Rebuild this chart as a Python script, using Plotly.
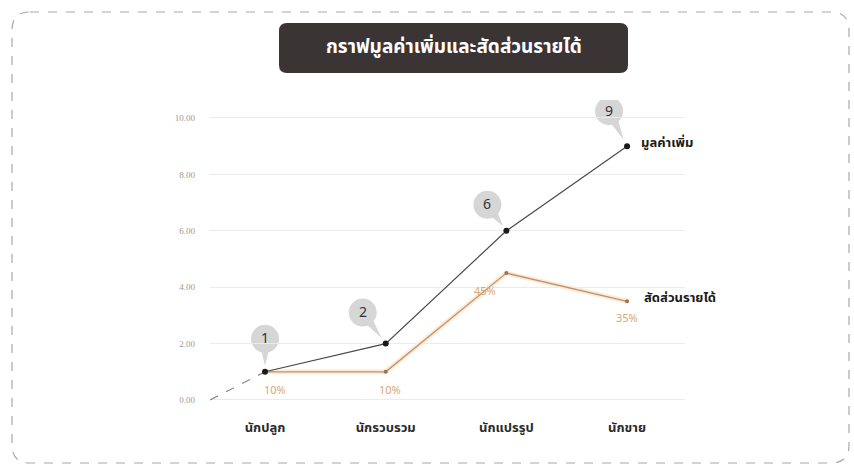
import math
import plotly.graph_objects as go

# ---- data ----
categories = ["นักปลูก", "นักรวบรวม", "นักแปรรูป", "นักขาย"]
value_added = [1, 2, 6, 9]            # มูลค่าเพิ่ม
income_share_pct = [10, 10, 45, 35]   # สัดส่วนรายได้ (%)
y_ticks = [0, 2, 4, 6, 8, 10]
title_text = "กราฟมูลค่าเพิ่มและสัดส่วนรายได้"
value_name = "มูลค่าเพิ่ม"
share_name = "สัดส่วนรายได้"

W, H = 854, 466
THAI = "Noto Sans Thai, Noto Sans, Tahoma, sans-serif"

# plot area in pixels
PX0, PX1, PY0, PY1 = 210, 685, 100, 410
x_range = [0.544, 4.48]
y_range = [-0.355, 10.638]

xs = list(range(1, len(categories) + 1))
share_scaled = [p / 10 for p in income_share_pct]


def fx(px):
    return px / W


def fy(py):
    return 1 - py / H


def rounded_rect(x0, y0, x1, y1, r):
    """SVG path of a rounded rectangle in paper units, from pixel corners."""
    pts = [
        f"M {fx(x0 + r)},{fy(y0)}",
        f"L {fx(x1 - r)},{fy(y0)}",
        f"Q {fx(x1)},{fy(y0)} {fx(x1)},{fy(y0 + r)}",
        f"L {fx(x1)},{fy(y1 - r)}",
        f"Q {fx(x1)},{fy(y1)} {fx(x1 - r)},{fy(y1)}",
        f"L {fx(x0 + r)},{fy(y1)}",
        f"Q {fx(x0)},{fy(y1)} {fx(x0)},{fy(y1 - r)}",
        f"L {fx(x0)},{fy(y0 + r)}",
        f"Q {fx(x0)},{fy(y0)} {fx(x0 + r)},{fy(y0)}",
        "Z",
    ]
    return " ".join(pts)


fig = go.Figure()

# dashed lead-in from the origin to the first point
fig.add_trace(go.Scatter(
    x=[x_range[0], xs[0]], y=[0, value_added[0]], mode="lines",
    line=dict(color="#8a8a8a", width=1.2, dash="dash"),
    hoverinfo="skip", showlegend=False))

# income-share line: soft halo + core
fig.add_trace(go.Scatter(
    x=xs, y=share_scaled, mode="lines",
    line=dict(color="#fcebd8", width=5),
    hoverinfo="skip", showlegend=False))
fig.add_trace(go.Scatter(
    x=xs, y=share_scaled, mode="lines+markers",
    line=dict(color="#c0906a", width=1.3),
    marker=dict(color="#9a7352", size=4),
    name=share_name, showlegend=False))

# value-added line
fig.add_trace(go.Scatter(
    x=xs, y=value_added, mode="lines+markers",
    line=dict(color="#4a4a4a", width=1.2),
    marker=dict(color="#1a1a1a", size=6),
    name=value_name, showlegend=False))

shapes = []
annotations = []

# outer dashed frame
shapes.append(dict(type="path", xref="paper", yref="paper",
                   path=rounded_rect(12, 12, 849, 463, 18),
                   line=dict(color="#a8a8a8", width=1.2, dash="dash"),
                   fillcolor="rgba(0,0,0,0)", layer="below"))
# title banner
shapes.append(dict(type="path", xref="paper", yref="paper",
                   path=rounded_rect(279, 23, 628, 73, 8),
                   line=dict(width=0), fillcolor="#3a3435"))
annotations.append(dict(xref="paper", yref="paper", x=fx(453.5), y=fy(48),
                        yanchor="middle",
                        text=f"<b>{title_text}</b>", showarrow=False,
                        font=dict(family=THAI, size=19, color="white")))

# callout bubbles above the value-added points (pixel offsets from each point)
bubble_offsets = [(0, 33), (-23, 31), (-19, 26), (-18, 35)]
R = 14
for x, v, (dx, dy) in zip(xs, value_added, bubble_offsets):
    # tail from bubble towards the point
    ang = math.atan2(-dy, -dx)
    bx, by = dx + R * 0.8 * math.cos(ang), dy + R * 0.8 * math.sin(ang)
    nx, ny = -math.sin(ang), math.cos(ang)
    tip = (dx * 0.18, dy * 0.18)
    path = (f"M {bx + nx * 4},{by + ny * 4} L {tip[0]},{tip[1]} "
            f"L {bx - nx * 4},{by - ny * 4} Z")
    shapes.append(dict(type="path", xref="x", yref="y",
                       xsizemode="pixel", ysizemode="pixel",
                       xanchor=x, yanchor=v, path=path,
                       fillcolor="#d6d6d6", line=dict(width=0), layer="below"))
    shapes.append(dict(type="circle", xref="x", yref="y",
                       xsizemode="pixel", ysizemode="pixel",
                       xanchor=x, yanchor=v,
                       x0=dx - R, x1=dx + R, y0=dy - R, y1=dy + R,
                       fillcolor="#d6d6d6", line=dict(width=0), layer="below"))
    annotations.append(dict(x=x, y=v, xref="x", yref="y", text=str(v),
                            showarrow=False, xshift=dx, yshift=dy + 1,
                            font=dict(family="Noto Sans, sans-serif", size=14,
                                      color="#333333")))

# percentage labels on the income-share line
pct_shifts = [(10, -19), (4, -19), (-21, -18), (0, -17)]
for x, s, p, (dx, dy) in zip(xs, share_scaled, income_share_pct, pct_shifts):
    annotations.append(dict(x=x, y=s, xref="x", yref="y", text=f"{p}%",
                            showarrow=False, xshift=dx, yshift=dy,
                            font=dict(family=THAI, size=11, color="#d8a874")))

# series name labels at the end of each line
annotations.append(dict(x=xs[-1], y=value_added[-1], xref="x", yref="y",
                        text=f"<b>{value_name}</b>", showarrow=False,
                        xanchor="left", xshift=12, yshift=3,
                        font=dict(family=THAI, size=13, color="#1a1a1a")))
annotations.append(dict(x=xs[-1], y=share_scaled[-1], xref="x", yref="y",
                        text=f"<b>{share_name}</b>", showarrow=False,
                        xanchor="left", xshift=15, yshift=3,
                        font=dict(family=THAI, size=13, color="#1a1a1a")))

fig.update_layout(
    width=W, height=H,
    margin=dict(l=0, r=0, t=0, b=0),
    paper_bgcolor="white", plot_bgcolor="white",
    showlegend=False,
    shapes=shapes, annotations=annotations,
    xaxis=dict(domain=[fx(PX0), fx(PX1)], range=x_range,
               tickvals=xs, ticktext=[f"<b>{c}</b>" for c in categories],
               showgrid=False, zeroline=False, showline=False,
               ticks="", ticklabelstandoff=8,
               tickfont=dict(family=THAI, size=13, color="#2a2a2a")),
    yaxis=dict(domain=[fy(PY1), fy(PY0)], range=y_range,
               tickvals=y_ticks, tickformat=".2f",
               showgrid=True, gridcolor="#ebebeb", gridwidth=1,
               zeroline=False, showline=False, ticks="",
               ticklabelstandoff=14,
               tickfont=dict(family="Liberation Serif, serif", size=9,
                             color="#9a9a9a")),
)

fig.write_html("out.html")
